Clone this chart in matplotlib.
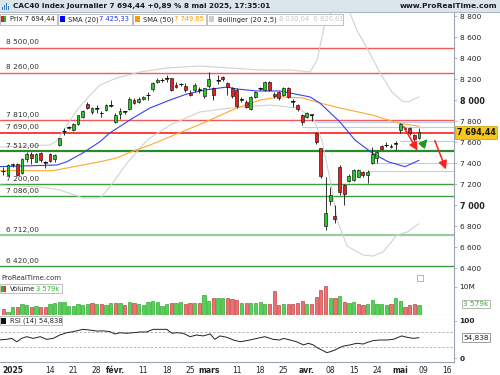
import matplotlib
matplotlib.use("Agg")
import matplotlib.pyplot as plt
from matplotlib.patches import Rectangle
import numpy as np

# ---------------- data ----------------
# daily candles, 30 dec 2024 -> 8 mai 2025 (index = trading day)
opens = [7320, 7286, 7378, 7387, 7308, 7440, 7489, 7413, 7492, 7400,
         7486, 7438, 7571, 7700, 7735, 7714, 7768, 7841, 7959, 7883,
         7918, 7872, 7905, 7946, 7787, 7863, 7887, 7914, 8003, 7984,
         8006, 8046, 8105, 8168, 8188, 8204, 8206, 8143, 8150, 8133,
         8063, 8095, 8100, 8040, 8137, 8115, 8185, 8222, 8165, 8110,
         8095, 8004, 7984, 7914, 8032, 8108, 8095, 8168, 8060, 8075,
         8048, 8111, 7985, 7952, 7857, 7835, 7860, 7683, 7540, 6800,
         7038, 6898, 7360, 7190, 7229, 7238, 7270, 7314, 7290, 7400,
         7444, 7562, 7568, 7565, 7585, 7710, 7732, 7738, 7667, 7640]
highs = [7365, 7390, 7403, 7397, 7444, 7502, 7502, 7498, 7502, 7422,
         7492, 7483, 7641, 7730, 7752, 7778, 7857, 7905, 7984, 7937,
         7952, 7895, 7959, 8000, 7873, 7921, 7900, 8032, 8016, 8030,
         8040, 8079, 8175, 8206, 8206, 8238, 8213, 8175, 8165, 8159,
         8095, 8159, 8127, 8115, 8263, 8125, 8238, 8232, 8175, 8127,
         8111, 8032, 7998, 8035, 8086, 8125, 8185, 8180, 8079, 8090,
         8120, 8120, 8006, 7965, 7865, 7885, 7870, 7700, 7545, 7270,
         7175, 7000, 7381, 7200, 7300, 7345, 7340, 7320, 7330, 7556,
         7510, 7575, 7600, 7580, 7610, 7785, 7745, 7745, 7675, 7730]
lows = [7286, 7279, 7365, 7279, 7298, 7413, 7387, 7406, 7413, 7349,
        7413, 7413, 7562, 7667, 7724, 7705, 7762, 7832, 7914, 7867,
        7873, 7841, 7895, 7937, 7778, 7819, 7870, 7905, 7959, 7975,
        7998, 8000, 8086, 8159, 8175, 8168, 8086, 8111, 8135, 8079,
        8040, 8079, 8063, 8020, 8117, 8000, 8149, 8181, 8048, 8020,
        7921, 7978, 7920, 7905, 8022, 8095, 8090, 8086, 8016, 8000,
        8040, 8020, 7937, 7900, 7762, 7830, 7800, 7580, 7260, 6762,
        7000, 6825, 7100, 7000, 7215, 7230, 7262, 7270, 7213, 7395,
        7403, 7530, 7555, 7540, 7524, 7690, 7705, 7670, 7610, 7630]
closes = [7324, 7381, 7394, 7286, 7440, 7490, 7450, 7490, 7425, 7405,
          7423, 7474, 7634, 7705, 7740, 7771, 7853, 7893, 7927, 7921,
          7922, 7876, 7950, 7955, 7854, 7895, 7892, 8007, 7973, 8010,
          8032, 8050, 8164, 8190, 8192, 8208, 8100, 8123, 8154, 8091,
          8051, 8143, 8097, 8111, 8199, 8047, 8190, 8197, 8120, 8035,
          7941, 8008, 7938, 8028, 8073, 8112, 8175, 8095, 8042, 8022,
          8110, 8030, 7990, 7916, 7790, 7875, 7858, 7598, 7275, 6927,
          7100, 6863, 7126, 7105, 7273, 7335, 7329, 7285, 7316, 7482,
          7502, 7536, 7573, 7550, 7593, 7768, 7720, 7690, 7626, 7694.44]
close_before = 7355

volumes = [2.0, 1.2, 2.7, 2.7, 3.8, 3.5, 2.9, 3.2, 2.9, 2.7,
           3.8, 4.4, 4.5, 4.5, 3.2, 3.2, 3.8, 3.5, 3.9, 4.4,
           3.9, 3.9, 3.5, 4.1, 4.1, 4.1, 3.4, 4.7, 4.4, 3.9,
           3.4, 4.5, 5.1, 4.7, 3.2, 3.9, 4.1, 4.1, 4.7, 3.9,
           4.1, 4.1, 4.1, 7.1, 5.1, 5.9, 5.9, 6.1, 5.9, 5.5,
           5.3, 4.4, 4.4, 4.4, 4.1, 4.5, 3.9, 3.9, 8.6, 3.5,
           3.9, 3.9, 3.9, 4.4, 5.1, 3.9, 3.9, 6.2, 8.8, 10.2,
           5.9, 5.9, 6.7, 4.5, 4.1, 4.5, 3.9, 3.5, 3.9, 5.3,
           3.9, 3.9, 3.5, 3.9, 5.9, 5.1, 2.7, 3.5, 3.9, 3.579]

sma20_k = [-1, 11.5, 13.6, 17, 20.7, 22.8, 27.8, 31.4, 35.7, 39.3, 43.2, 47.9,
           50, 54.3, 59.3, 61.4, 65.7, 67.8, 72.1, 75.3, 79, 82.4, 86, 89]
sma20_v = [7365, 7381, 7412, 7495, 7603, 7686, 7829, 7924, 8000, 8057, 8095, 8124,
           8105, 8086, 8086, 8067, 8029, 7971, 7790, 7619, 7495, 7412, 7365, 7425.33]
sma50_k = [-1, 10.6, 17, 20.7, 24.3, 27.8, 31.4, 35.7, 42.8, 50, 55, 59.3,
           64.2, 67.8, 72.1, 79, 84.5, 89]
sma50_v = [7327, 7327, 7381, 7412, 7448, 7514, 7571, 7650, 7781, 7924, 8000, 8031,
           8019, 7971, 7924, 7857, 7781, 7749.85]
bb_up_k = [-1, 10, 11.5, 13.2, 15.8, 18.6, 20.7, 24.3, 29.3, 35.1, 42.1, 48.5,
           55, 61.4, 65.7, 67.2, 68.9, 70.6, 72.8, 74.2, 75.7, 78.1, 80.7, 83.2,
           85.4, 86.7, 89]
bb_up_v = [7552, 7571, 7610, 7733, 7905, 8048, 8143, 8210, 8267, 8305, 8324, 8305,
           8286, 8286, 8267, 8381, 8740, 8857, 8885, 8833, 8667, 8476, 8257, 8076,
           7990, 7981, 8030.04]
bb_lo_k = [-1, 7.9, 12.1, 17.1, 20.7, 22.8, 26.5, 30.8, 35.7, 42.1, 48.5, 57.1,
           62.9, 66.3, 68.2, 70, 71.5, 73.6, 77, 79.2, 81.3, 84.3, 86.5, 89]
bb_lo_v = [7190, 7171, 7143, 7067, 7067, 7171, 7400, 7619, 7762, 7886, 7924, 7952,
           7924, 7838, 7619, 7238, 6857, 6610, 6524, 6514, 6552, 6714, 6743, 6820.61]

rsi_k = [-1, 0.7, 1.8, 2.9, 3.9, 5, 6.4, 7.9, 9.3, 10.7, 12.1, 13.6, 15, 17.1,
         18.6, 20, 21.4, 22.8, 23.9, 25, 26.4, 27.8, 29.3, 30.7, 32.1, 35, 36.1,
         37.1, 38.5, 40, 41.4, 42.8, 44.3, 45.3, 46.4, 47.8, 49.3, 50.7, 52.1,
         52.8, 54.3, 56, 57.8, 59.2, 60, 61.4, 62.8, 64.3, 65.3, 66.4, 67.1, 68.2,
         69.3, 70, 71, 72.1, 72.8, 74.2, 75.7, 77.1, 77.8, 79.2, 80.7, 82.1, 83.5,
         85.3, 86.4, 87.8, 89]
rsi_v = [48.7, 50.4, 53, 44, 53, 57.5, 53, 57.5, 50.4, 53, 62, 68, 71, 77,
         75, 72.5, 73, 71, 64.7, 68, 66.5, 68, 70, 70, 77, 77, 66.5,
         68, 66.5, 57.5, 62, 59.5, 64.7, 50.4, 59.5, 56, 48.7, 44, 47,
         48.7, 53, 57.5, 50.4, 48.7, 53, 48.7, 44, 35.5, 40, 35.5, 29, 22,
         15, 17.5, 22, 29, 32.5, 35.5, 40, 38, 41.7, 47, 48.7, 48.7, 50.4,
         59.5, 56, 53, 54.838]

red_levels = [8500, 8260, 7810, 7690]
green_levels = [7512, 7200, 7086, 6712, 6420]
blue_rays = [(7787, 67), (7740, 64), (7610, 85), (7403, 79), (7324, 78)]
arrows = [((85.4, 7771), (89.0, 7495), "#ff2020"),
          ((89.2, 7543), (91.2, 7648), "#1f9a1f"),
          ((92.2, 7638), (95.0, 7314), "#ff2020")]

date_pos = [2, 10, 15, 20, 24, 30, 35, 40, 44, 50, 55, 60, 65, 70, 75, 80, 85, 90, 95]
date_lab = ["2025", "14", "21", "28", "févr.", "11", "18", "25", "mars", "11",
            "18", "25", "avr.", "08", "15", "24", "mai", "09", "16"]

# ---------------- figure layout (pixel based) ----------------
W, H = 500, 375
fig = plt.figure(figsize=(5, 3.75), dpi=100)
plt.rcParams["font.family"] = ["DejaVu Sans"]

def fx(px):
    return px / W

def fy(py):
    return 1 - py / H

def make_ax(top, bottom):
    return fig.add_axes([0, fy(bottom), fx(454), (bottom - top) / H])

axP = make_ax(12, 282)
axV = make_ax(283, 315)
axR = make_ax(315, 362)

xmin, xmax = -0.707, 96.51
gray = "#9aa4ae"
for ax in (axP, axV, axR):
    ax.set_xlim(xmin, xmax)
    ax.set_facecolor("white")
    for s in ("top", "left"):
        ax.spines[s].set_visible(False)
    ax.spines["right"].set_color(gray)
    ax.spines["bottom"].set_color(gray)
    ax.spines["right"].set_linewidth(0.8)
    ax.spines["bottom"].set_linewidth(0.8)
    ax.yaxis.tick_right()
    ax.tick_params(axis="y", direction="out", length=2.5, width=0.5, colors=gray,
                   labelcolor="#222222", labelsize=5.3, pad=1.5)
    ax.tick_params(axis="x", length=0)
    ax.set_xticks([])

# ---------------- price panel ----------------
x = np.arange(len(closes))
o = np.array(opens, float)
h = np.array(highs, float)
l = np.array(lows, float)
c = np.array(closes, float)

axP.set_ylim(6266.7, 8838.1)

for lv in red_levels:
    strong = lv == 7690
    axP.axhline(lv, color="#ff1a1a" if strong else "#f25a5a", lw=1.2 if strong else 1.0, zorder=1)
    axP.text(0.5, lv + 22, f"{lv:,}".replace(",", " ") + ",00", fontsize=5.3,
             color="#333333", va="bottom", ha="left", zorder=6)
for lv in green_levels:
    if lv == 7512:
        col, lw = "#2a8a2a", 1.6
    elif lv == 6712:
        col, lw = "#9acb9a", 1.6
    else:
        col, lw = "#3d9e3d", 1.0
    axP.axhline(lv, color=col, lw=lw, zorder=1)
    axP.text(0.5, lv + 22, f"{lv:,}".replace(",", " ") + ",00", fontsize=5.3,
             color="#333333", va="bottom", ha="left", zorder=6)

for lv, k0 in blue_rays:
    axP.plot([k0, xmax], [lv, lv], color="#b8cdf0", lw=0.8, zorder=1)

axP.plot(bb_up_k, bb_up_v, color="#d2d2d2", lw=0.8, zorder=2)
axP.plot(bb_lo_k, bb_lo_v, color="#d2d2d2", lw=0.8, zorder=2)
axP.plot(sma50_k, sma50_v, color="#ffa733", lw=0.8, zorder=2)
axP.plot(sma20_k, sma20_v, color="#3344ee", lw=0.8, zorder=2)

axP.vlines(x, l, h, color="#111111", lw=0.6, zorder=3)
up = c >= o
body_lo = np.minimum(o, c)
body_h = np.maximum(np.abs(c - o), 4)
axP.bar(x[up], body_h[up], bottom=body_lo[up], width=0.6, color="#22cc22",
        edgecolor="#111111", linewidth=0.45, zorder=4)
axP.bar(x[~up], body_h[~up], bottom=body_lo[~up], width=0.6, color="#ee1c1c",
        edgecolor="#111111", linewidth=0.45, zorder=4)
doji = np.abs(c - o) < 10
axP.hlines(c[doji], x[doji] - 0.4, x[doji] + 0.4, color="#111111", lw=0.7, zorder=5)

for (x0, y0), (x1, y1), col in arrows:
    axP.annotate("", xy=(x1, y1), xytext=(x0, y0),
                 arrowprops=dict(arrowstyle="-|>,head_length=0.5,head_width=0.25",
                                 color=col, lw=1.1), zorder=6)

pticks = list(range(6400, 8801, 200))
axP.set_yticks(pticks)
axP.set_yticklabels([f"{t:,}".replace(",", " ") for t in pticks])
for t, lab in zip(pticks, axP.get_yticklabels()):
    if t in (7000, 8000):
        lab.set_fontweight("bold")
        lab.set_fontsize(5.8)
axP.spines["bottom"].set_visible(False)

# current price label
fig.text(fx(476), fy(132.3), "7 694,44", fontsize=5.8, fontweight="bold", ha="center",
         va="center", color="#111111",
         bbox=dict(boxstyle="square,pad=0.25", fc="#f7c51e", ec="#c89a00", lw=0.5))

# ---------------- volume panel ----------------
prev = np.concatenate([[close_before], c[:-1]])
vup = c >= prev
vol = np.array(volumes)
axV.set_ylim(0, 11.31)
axV.bar(x[vup], vol[vup], width=0.7, color="#52d452", edgecolor="#1e961e", linewidth=0.4)
axV.bar(x[~vup], vol[~vup], width=0.7, color="#ef7070", edgecolor="#b02828", linewidth=0.4)
axV.set_yticks([10])
axV.set_yticklabels(["10M"])
fig.text(fx(476), fy(304), "3 579k", fontsize=5.3, ha="center", va="center", color="#2ab82a",
         bbox=dict(boxstyle="square,pad=0.2", fc="white", ec="#999999", lw=0.5))

# ---------------- RSI panel ----------------
axR.set_ylim(-9.84, 115.16)
axR.axhline(70, color="#aaaaaa", lw=0.6, ls=(0, (3, 2)))
axR.axhline(30, color="#aaaaaa", lw=0.6, ls=(0, (3, 2)))
axR.plot(rsi_k, rsi_v, color="#222222", lw=0.7)
axR.set_yticks([100, 0])
axR.set_yticklabels(["100", "0"])
for lab in axR.get_yticklabels():
    lab.set_fontweight("bold")
fig.text(fx(476), fy(337.7), "54,838", fontsize=5.3, ha="center", va="center", color="#222222",
         bbox=dict(boxstyle="square,pad=0.2", fc="white", ec="#777777", lw=0.5))

axR.set_xticks(date_pos)
axR.set_xticklabels(date_lab)
axR.tick_params(axis="x", length=0, labelsize=5.5, pad=3, labelcolor="#222222")
for lab in axR.get_xticklabels():
    if not lab.get_text().isdigit() or lab.get_text() == "2025":
        lab.set_fontweight("bold")

# ---------------- header / legends ----------------
fig.patches.append(Rectangle((0, fy(12)), 1, 12 / H, transform=fig.transFigure,
                             fc="#dbe5ec", ec="none", zorder=5))
fig.patches.append(Rectangle((0, fy(12.5)), 1, 0.8 / H, transform=fig.transFigure,
                             fc="#a9b8c4", ec="none", zorder=5))
for i, hh in enumerate([3, 5, 7, 4]):
    fig.patches.append(Rectangle((fx(2 + i * 2), fy(10)), fx(1.2), hh / H,
                                 transform=fig.transFigure, fc="#2a7ad0", ec="none", zorder=6))
fig.text(fx(13), fy(6.3), "CAC40 Index Journalier 7 694,44 +0,89 % 8 mai 2025, 17:35:01",
         fontsize=5.2, fontweight="bold", color="#1a1a1a", va="center", ha="left", zorder=7)
fig.text(fx(497), fy(6.3), "www.ProRealTime.com", fontsize=5.4, fontweight="bold",
         color="#1a1a1a", va="center", ha="right", zorder=7)


def legend_box(x0, x1, y0, y1):
    fig.patches.append(Rectangle((fx(x0), fy(y1)), fx(x1 - x0), (y1 - y0) / H,
                                 transform=fig.transFigure, fc="white", ec="#b4b4b4",
                                 lw=0.6, zorder=5))


def swatch(x0, y0, col, col2=None):
    fig.patches.append(Rectangle((fx(x0), fy(y0 + 6)), fx(5), 6 / H, transform=fig.transFigure,
                                 fc=col, ec="none", zorder=6))
    if col2:
        fig.patches.append(Rectangle((fx(x0 + 2.5), fy(y0 + 6)), fx(2.5), 6 / H,
                                     transform=fig.transFigure, fc=col2, ec="none", zorder=6))


ly = 19.3
legend_box(0, 57, 13.5, 25)
swatch(1, 16.3, "#dd2222", "#22bb22")
fig.text(fx(9.5), fy(ly), "Prix 7 694,44", fontsize=4.9, color="#222222", va="center", zorder=7)
legend_box(58, 132, 13.5, 25)
swatch(60, 16.3, "#0000ff")
fig.text(fx(68), fy(ly), "SMA (20)", fontsize=4.9, color="#222222", va="center", zorder=7)
fig.text(fx(99), fy(ly), "7 425,33", fontsize=4.9, color="#2233ee", va="center", zorder=7)
legend_box(133, 206, 13.5, 25)
swatch(135, 16.3, "#ff9900")
fig.text(fx(143), fy(ly), "SMA (50)", fontsize=4.9, color="#222222", va="center", zorder=7)
fig.text(fx(174.5), fy(ly), "7 749,85", fontsize=4.9, color="#ff9900", va="center", zorder=7)
legend_box(207, 343, 13.5, 25)
swatch(209, 16.3, "#cccccc")
fig.text(fx(217.5), fy(ly), "Bollinger (20 2,5)", fontsize=4.9, color="#222222", va="center", zorder=7)
fig.text(fx(279), fy(ly), "8 030,04  6 820,61", fontsize=4.9, color="#c8c8c8", va="center", zorder=7)

fig.text(fx(1), fy(278), "ProRealTime.com", fontsize=5.0, color="#333333", va="center", zorder=7)
fig.patches.append(Rectangle((fx(417), fy(281)), fx(6), 6 / H, transform=fig.transFigure,
                             fc="white", ec="#999999", lw=0.5, zorder=6))

legend_box(0, 62, 284, 293)
swatch(1, 285.5, "#22bb22", "#dd3333")
fig.text(fx(9.5), fy(288.8), "Volume", fontsize=4.9, color="#222222", va="center", zorder=7)
fig.text(fx(36), fy(288.8), "3 579k", fontsize=4.9, color="#2ab82a", va="center", zorder=7)
legend_box(0, 62, 316, 325)
swatch(1, 317.5, "#111111")
fig.text(fx(9.5), fy(320.8), "RSI (14) 54,838", fontsize=4.9, color="#222222", va="center", zorder=7)

fig.savefig("out.png", dpi=100)
